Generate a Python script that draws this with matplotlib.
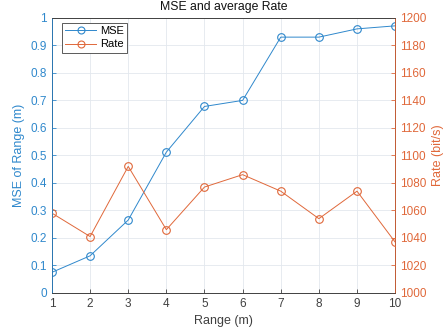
import numpy as np
import matplotlib.pyplot as plt

plt.rcParams['font.family'] = ['Liberation Sans', 'DejaVu Sans']

# data
rng = [1, 2, 3, 4, 5, 6, 7, 8, 9, 10]
mse = [0.075, 0.135, 0.265, 0.512, 0.678, 0.700, 0.930, 0.930, 0.960, 0.971]
rate = [1058, 1041, 1092, 1046, 1077, 1086, 1074, 1054, 1074, 1037]

blue = '#2F88CC'
orange = '#E0683A'
dark = '#404040'

fig = plt.figure(figsize=(4.48, 3.31), dpi=100)
ax = fig.add_axes([0.116, 0.115, 0.766, 0.831])
ax2 = ax.twinx()

l1, = ax.plot(rng, mse, '-o', color=blue, lw=0.7, ms=5.5, mfc='none', mew=0.8, label='MSE')
l2, = ax2.plot(rng, rate, '-o', color=orange, lw=0.7, ms=5.5, mfc='none', mew=0.8, label='Rate')

ax.set_xlim(1, 10)
ax.set_ylim(0, 1)
ax2.set_ylim(1000, 1200)
ax.set_xticks(rng)
ax.set_yticks(np.arange(0, 1.01, 0.1))
ax.set_yticklabels(['0', '0.1', '0.2', '0.3', '0.4', '0.5', '0.6', '0.7', '0.8', '0.9', '1'])
ax2.set_yticks(np.arange(1000, 1201, 20))

ax.grid(True, color='#e3e8ee', lw=0.6)
ax.set_axisbelow(True)

for a in (ax, ax2):
    a.tick_params(direction='in', length=3, width=0.6, labelsize=8.5)
    for s in a.spines.values():
        s.set_linewidth(0.6)
ax.spines['top'].set_color(dark)
ax.spines['bottom'].set_color(dark)
ax2.spines['left'].set_color(blue)
ax2.spines['right'].set_color(orange)
ax2.spines['top'].set_color(dark)
ax2.spines['bottom'].set_color(dark)
ax.tick_params(axis='x', colors=dark)
ax.tick_params(axis='y', colors=blue)
ax2.tick_params(axis='y', colors=orange)

ax.set_xlabel('Range (m)', fontsize=9, color=dark)
ax.set_ylabel('MSE of Range (m)', fontsize=9, color=blue)
ax2.set_ylabel('Rate (bit/s)', fontsize=9, color=orange)
ax.set_title('MSE and average Rate', fontsize=8.8, color='#111111', pad=6)

leg = ax.legend([l1, l2], ['MSE', 'Rate'], loc='upper left', fontsize=8,
                fancybox=False, edgecolor=dark, framealpha=1,
                handlelength=2.8, handletextpad=0.3, borderpad=0.3,
                labelspacing=0.3, borderaxespad=0,
                bbox_to_anchor=(0.029, 0.982))
leg.get_frame().set_linewidth(0.6)
for h in leg.legend_handles:
    h.set_markersize(5)

fig.savefig('out.png', dpi=100)
